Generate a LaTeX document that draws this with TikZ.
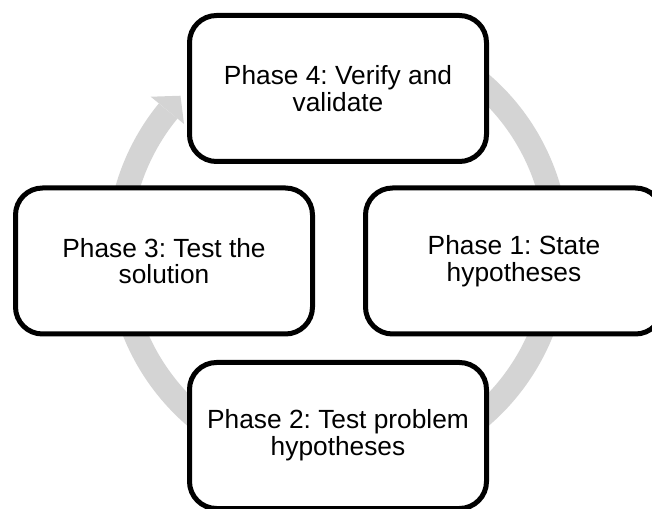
\documentclass[tikz,border=0pt]{standalone}
\usepackage{fontspec}
\setmainfont{Liberation Sans}
\definecolor{ringgray}{RGB}{212,212,212}
\begin{document}
\frenchspacing
\begin{tikzpicture}[x=1pt,y=1pt,
  phasebox/.style={draw=black, line width=5pt, fill=white, rounded corners=27pt,
    minimum width=297pt, minimum height=146pt, align=center, inner sep=0pt,
    font=\fontsize{26.3}{26.7}\selectfont},
  ringband/.style={draw=ringgray, line width=24pt}]
\useasboundingbox (0,0) rectangle (652,508);
\clip (0,0) rectangle (652,508);
% the cycle ring behind the boxes
\coordinate (ringc) at (338,258);
\draw[ringband] ([shift={(60:219.5)}]ringc) arc[start angle=60, end angle=-219.3, radius=219.5];
\fill[ringgray] ([shift={(140.7:242)}]ringc) -- ([shift={(135.6:220.5)}]ringc)
  -- ([shift={(140.7:199)}]ringc) -- cycle;
% the four phases
\node[phasebox] (p4) at (338,419.5) {Phase 4: Verify and\\validate};
\node[phasebox] (p3) at (164,247) {Phase 3: Test the\\solution};
\node[phasebox] (p1) at (514,247) {Phase 1: State\\hypotheses};
\node[phasebox] (p2) at (338,72.5) {Phase 2: Test problem\\hypotheses};
\end{tikzpicture}
\end{document}
